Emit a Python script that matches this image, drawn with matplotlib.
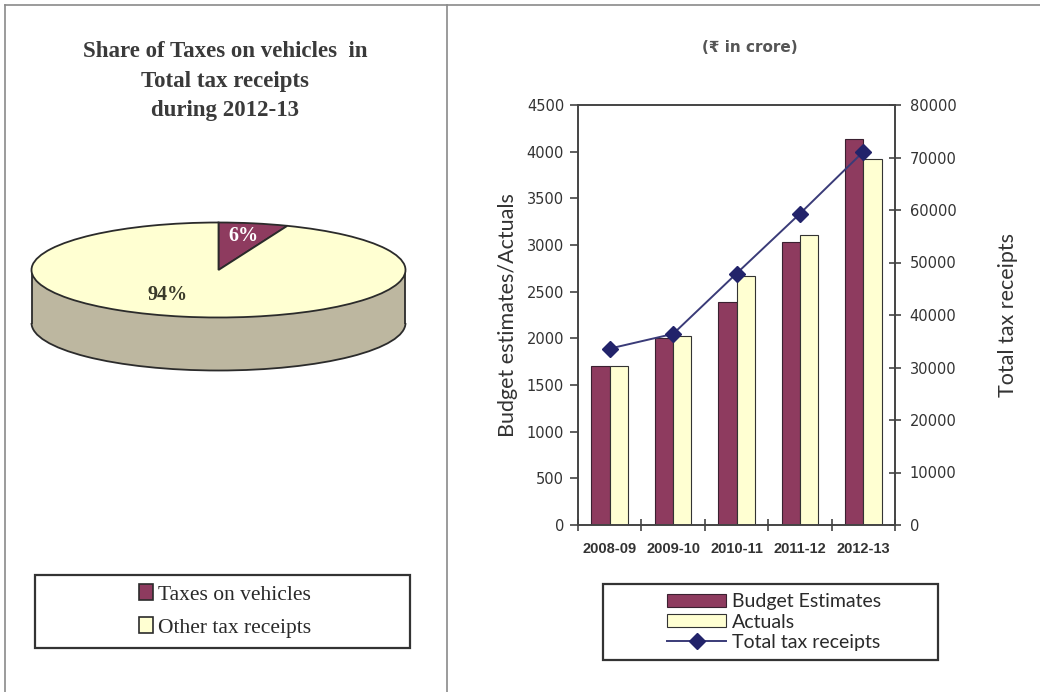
import numpy as np
import matplotlib.pyplot as plt
from matplotlib.patches import Rectangle, Ellipse, Arc
from matplotlib.lines import Line2D

# data
years = ["2008-09", "2009-10", "2010-11", "2011-12", "2012-13"]
budget_estimates = [1700, 2000, 2390, 3035, 4135]
actuals = [1700, 2025, 2670, 3105, 3920]
total_tax_receipts = [33600, 36400, 47900, 59300, 71100]

share_labels = ["Taxes on vehicles", "Other tax receipts"]
share_values = [6, 94]

W, H = 1040, 692
MAROON = "#8E3B5F"
CREAM = "#FFFFD2"
TAUPE = "#BDB7A0"
NAVY = "#22236A"
TXT = "#333333"


def fx(px):
    return px / W


def fy(py):
    return 1 - py / H


fig = plt.figure(figsize=(W / 100, H / 100), dpi=100)
fig.patch.set_facecolor("white")

# panel frame lines
for xs, ys in [((5, W), (5, 5)), ((5, 5), (5, H)), ((447, 447), (5, H))]:
    fig.add_artist(Line2D([fx(x) for x in xs], [fy(y) for y in ys],
                          color="#8a8a8a", lw=1.2))

# ---------------- left panel: 3D-looking pie ----------------
fig.text(fx(225), fy(81), "Share of Taxes on vehicles  in\nTotal tax receipts\nduring 2012-13",
         ha="center", va="center", family="Liberation Serif", weight="bold",
         fontsize=16.5, color="#3a3a3a", linespacing=1.55)

pax = fig.add_axes([fx(20), fy(400), fx(397), 200 / H])
depth = 53 / 47.5
# side of the disc
pax.add_patch(Ellipse((0, -depth), 2, 2, facecolor=TAUPE, edgecolor="none", zorder=1))
pax.add_patch(Rectangle((-1, -depth), 2, depth, facecolor=TAUPE, edgecolor="none", zorder=1))
pax.add_patch(Arc((0, -depth), 2, 2, theta1=180, theta2=360, color="#2b2b2b", lw=1.3, zorder=2))
pax.plot([-1, -1], [-depth, 0], color="#2b2b2b", lw=1.3, zorder=2)
pax.plot([1, 1], [-depth, 0], color="#2b2b2b", lw=1.3, zorder=2)

wedges, texts, autotexts = pax.pie(
    share_values, colors=[MAROON, CREAM], startangle=90, counterclock=False,
    autopct="%d%%", pctdistance=0.72,
    wedgeprops=dict(edgecolor="#2b2b2b", linewidth=1.3),
    textprops=dict(family="Liberation Serif", fontsize=14.5, weight="bold"))
for w in wedges:
    w.set_zorder(3)
autotexts[0].set_color("white")
autotexts[1].set_color("#3a3a2a")
autotexts[1].set_position((-0.27, -0.53))
for t in autotexts:
    t.set_zorder(4)
pax.set_aspect("auto")
pax.set_xlim(-198.5 / 187, 198.5 / 187)
pax.set_ylim(-130 / 47.5, 70 / 47.5)
pax.axis("off")

# left legend
fig.add_artist(Rectangle((fx(35), fy(648)), fx(375), 73 / H, transform=fig.transFigure,
                         facecolor="none", edgecolor="#333333", lw=1.6))
pie_handles = [Rectangle((0, 0), 1, 1, facecolor=c, edgecolor="#2b2b2b", lw=1.2)
               for c in [MAROON, CREAM]]
fig.legend(pie_handles, share_labels, loc="center",
           bbox_to_anchor=(fx(225), fy(611)), frameon=False,
           prop=dict(family="Liberation Serif", size=15.5),
           handlelength=0.65, handleheight=0.75, handletextpad=0.2, labelspacing=0.6,
           labelcolor="#2a2a2a")

# ---------------- right panel: bars and line ----------------
ax = fig.add_axes([fx(578), fy(525), fx(895 - 578), 420 / H])
x = np.arange(len(years))
bw = 0.29
b1 = ax.bar(x - bw / 2, budget_estimates, bw, color=MAROON, edgecolor="#3a2030", lw=0.8,
            label="Budget Estimates", zorder=2)
b2 = ax.bar(x + bw / 2, actuals, bw, color=CREAM, edgecolor="#333333", lw=0.8,
            label="Actuals", zorder=2)
ax.set_xlim(-0.5, len(years) - 0.5)
ax.set_ylim(0, 4500)
ax.set_yticks(np.arange(0, 4501, 500))
ax.set_xticks(x)
ax.set_xticklabels(years, family="Liberation Sans", weight="bold", fontsize=10.5, color=TXT)
ax.set_xticks(np.arange(-0.5, len(years), 1), minor=True)
ax.tick_params(axis="x", which="major", length=0, pad=12)
ax.tick_params(axis="x", which="minor", length=8, direction="inout", width=1.2, color="#444")
ax.tick_params(axis="y", length=6, direction="out", width=1.2, color="#444",
               labelsize=10.5, labelcolor=TXT, pad=4)
for lab in ax.get_yticklabels():
    lab.set_family("DejaVu Sans")
for s in ax.spines.values():
    s.set_color("#444444")
    s.set_linewidth(1.2)
ax.set_ylabel("Budget estimates/Actuals", family="Lato", fontsize=15.5, color=TXT, labelpad=6)

ax2 = ax.twinx()
ln, = ax2.plot(x, total_tax_receipts, color="#3a3b78", lw=1.4, marker="D",
               markersize=8, markerfacecolor=NAVY, markeredgecolor=NAVY,
               label="Total tax receipts", zorder=3)
ax2.set_ylim(0, 80000)
ax2.set_yticks(np.arange(0, 80001, 10000))
ax2.tick_params(axis="y", length=9, direction="inout", width=1.2, color="#444",
                labelsize=10.5, labelcolor=TXT, pad=6)
for lab in ax2.get_yticklabels():
    lab.set_family("DejaVu Sans")
for s in ax2.spines.values():
    s.set_color("#444444")
    s.set_linewidth(1.2)
ax2.set_ylabel("Total tax receipts", family="Lato", fontsize=15.5, color=TXT, labelpad=30)

fig.text(fx(750), fy(47), "(\u20b9 in crore)", ha="center", va="center",
         family=["DejaVu Sans"], fontsize=11, weight="bold", color="#555555")

# right legend
fig.add_artist(Rectangle((fx(603), fy(660)), fx(335), 76 / H, transform=fig.transFigure,
                         facecolor="none", edgecolor="#333333", lw=1.6))
fig.legend([b1, b2, ln], ["Budget Estimates", "Actuals", "Total tax receipts"],
           loc="center", bbox_to_anchor=(fx(774), fy(622)), frameon=False,
           prop=dict(family="Lato", size=14), handlelength=3.0, handleheight=0.65,
           handletextpad=0.3, labelspacing=0.18, labelcolor="#2a2a2a")

fig.savefig("out.png", dpi=100)
